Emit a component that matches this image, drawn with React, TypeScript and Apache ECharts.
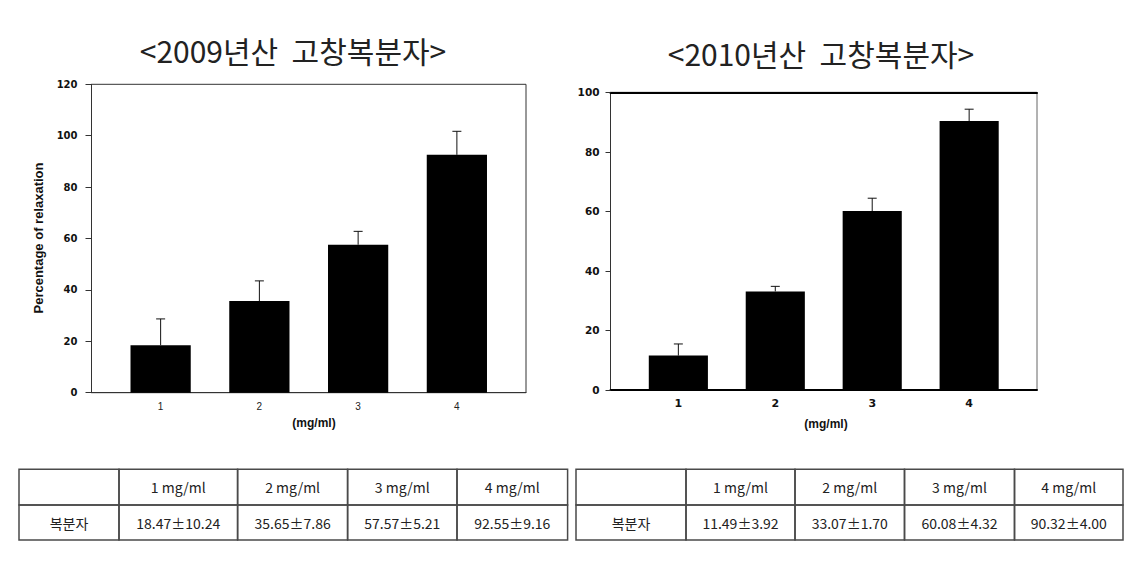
import React, { useEffect, useRef } from "react";
import * as echarts from "echarts";

// ---- data ----
const doses = [1, 2, 3, 4];
const mean2009 = [18.47, 35.65, 57.57, 92.55];
const err2009 = [10.24, 7.86, 5.21, 9.16];
const mean2010 = [11.49, 33.07, 60.08, 90.32];
const err2010 = [3.92, 1.7, 4.32, 4.0];
const yTicks2009 = { min: 0, max: 120, interval: 20 };
const yTicks2010 = { min: 0, max: 100, interval: 20 };
const title2009 = "<2009년산  고창복분자>";
const title2010 = "<2010년산  고창복분자>";
const yTitle = "Percentage of relaxation";
const xTitle = "(mg/ml)";
const headerLabels = ["", "1 mg/ml", "2 mg/ml", "3 mg/ml", "4 mg/ml"];
const rowLabel = "복분자";

const BAR_W = 0.61;
const CAP = 9;

function makeRender() {
  return (params: any, api: any) => {
    const x = api.value(0);
    const v = api.value(1);
    const e = api.value(2);
    const top = api.coord([x, v]);
    const base = api.coord([x, 0]);
    const et = api.coord([x, v + e]);
    const w = api.size([BAR_W, 0])[0];
    return {
      type: "group",
      children: [
        {
          type: "rect",
          shape: { x: top[0] - w / 2, y: top[1], width: w, height: base[1] - top[1] },
          style: { fill: "#000" },
        },
        {
          type: "line",
          shape: { x1: top[0], y1: top[1], x2: top[0], y2: et[1] },
          style: { stroke: "#111", lineWidth: 1 },
        },
        {
          type: "line",
          shape: { x1: top[0] - CAP / 2, y1: et[1], x2: top[0] + CAP / 2, y2: et[1] },
          style: { stroke: "#111", lineWidth: 1 },
        },
      ],
    };
  };
}

function tableGraphics(cols: number[], top: number, mid: number, bottom: number, means: number[], errs: number[]) {
  const els: any[] = [];
  const rows = [
    headerLabels,
    [rowLabel, ...means.map((m, i) => `${m.toFixed(2)}±${errs[i].toFixed(2)}`)],
  ];
  const ys = [top, mid, bottom];
  for (let r = 0; r < 2; r++) {
    for (let c = 0; c < 5; c++) {
      els.push({
        type: "rect",
        shape: { x: cols[c], y: ys[r], width: cols[c + 1] - cols[c], height: ys[r + 1] - ys[r] },
        style: { fill: "none", stroke: "#4a4a4a", lineWidth: 1.5 },
      });
      if (rows[r][c]) {
        els.push({
          type: "text",
          x: (cols[c] + cols[c + 1]) / 2,
          y: (ys[r] + ys[r + 1]) / 2,
          style: {
            text: rows[r][c],
            align: "center",
            verticalAlign: "middle",
            fontSize: 14,
            fontFamily: "Noto Sans CJK KR",
            fill: "#222",
          },
        });
      }
    }
  }
  return els;
}

export default function App() {
  const ref = useRef<HTMLDivElement>(null);
  useEffect(() => {
    document.body.style.margin = "0";
    const chart = echarts.init(ref.current!, null, { renderer: "svg" });
    const yLabelFont = { fontFamily: "DejaVu Sans", fontWeight: "bold" as const, color: "#111" };
    const option: any = {
      animation: false,
      backgroundColor: "#fff",
      grid: [
        { left: 91.5, top: 84.3, width: 434.5, height: 308.4, show: true, borderColor: "#333", borderWidth: 1 },
        { left: 610.5, top: 92.3, width: 426.5, height: 297.5, show: true, borderColor: "#666", borderWidth: 1 },
      ],
      xAxis: [
        {
          gridIndex: 0,
          type: "value",
          min: 0.3,
          max: 4.7,
          axisLine: { show: true, lineStyle: { color: "#333", width: 1 } },
          axisTick: { show: false },
          splitLine: { show: false },
          axisLabel: { customValues: doses, margin: 9, fontSize: 10, fontFamily: "Liberation Sans", color: "#222" },
        },
        {
          gridIndex: 1,
          type: "value",
          min: 0.3,
          max: 4.7,
          axisLine: { show: true, lineStyle: { color: "#000", width: 2 } },
          axisTick: { show: false },
          splitLine: { show: false },
          axisLabel: { customValues: doses, margin: 8, fontSize: 11, ...yLabelFont },
        },
        {
          gridIndex: 1,
          type: "value",
          position: "top",
          min: 0.3,
          max: 4.7,
          axisLine: { show: true, lineStyle: { color: "#000", width: 2 } },
          axisTick: { show: false },
          axisLabel: { show: false },
          splitLine: { show: false },
        },
      ],
      yAxis: [
        {
          gridIndex: 0,
          type: "value",
          ...yTicks2009,
          axisLine: { show: true, lineStyle: { color: "#333" } },
          axisTick: { show: true, length: 6, lineStyle: { color: "#333" } },
          splitLine: { show: false },
          axisLabel: { margin: 14, fontSize: 10, ...yLabelFont },
        },
        {
          gridIndex: 1,
          type: "value",
          ...yTicks2010,
          axisLine: { show: true, lineStyle: { color: "#333" } },
          axisTick: { show: true, length: 5, lineStyle: { color: "#333" } },
          splitLine: { show: false },
          axisLabel: { margin: 11, fontSize: 10.5, ...yLabelFont },
        },
      ],
      series: [
        {
          type: "custom",
          xAxisIndex: 0,
          yAxisIndex: 0,
          renderItem: makeRender(),
          encode: { x: 0, y: 1 },
          data: doses.map((d, i) => [d, mean2009[i], err2009[i]]),
        },
        {
          type: "custom",
          xAxisIndex: 1,
          yAxisIndex: 1,
          renderItem: makeRender(),
          encode: { x: 0, y: 1 },
          data: doses.map((d, i) => [d, mean2010[i], err2010[i]]),
        },
      ],
      graphic: [
        {
          type: "text",
          x: 293,
          y: 50,
          style: { text: title2009, align: "center", verticalAlign: "middle", fontSize: 30, fontFamily: "Noto Sans CJK KR", fill: "#222" },
        },
        {
          type: "text",
          x: 821,
          y: 53,
          style: { text: title2010, align: "center", verticalAlign: "middle", fontSize: 30, fontFamily: "Noto Sans CJK KR", fill: "#222" },
        },
        {
          type: "text",
          x: 38,
          y: 238,
          rotation: Math.PI / 2,
          style: { text: yTitle, align: "center", verticalAlign: "middle", fontSize: 13, fontWeight: "bold", fontFamily: "Liberation Sans", fill: "#111" },
        },
        {
          type: "text",
          x: 314,
          y: 423,
          style: { text: xTitle, align: "center", verticalAlign: "middle", fontSize: 12, fontWeight: "bold", fontFamily: "Liberation Sans", fill: "#111" },
        },
        {
          type: "text",
          x: 826,
          y: 424,
          style: { text: xTitle, align: "center", verticalAlign: "middle", fontSize: 12, fontWeight: "bold", fontFamily: "Liberation Sans", fill: "#111" },
        },
        ...tableGraphics([19, 119, 237.6, 347.6, 457, 567.6], 469.3, 505, 540, mean2009, err2009),
        ...tableGraphics([576, 686, 795, 904.5, 1014.5, 1123], 469.3, 505, 540, mean2010, err2010),
      ],
    };
    chart.setOption(option);
    return () => chart.dispose();
  }, []);
  return <div ref={ref} style={{ width: 1145, height: 569 }} />;
}
